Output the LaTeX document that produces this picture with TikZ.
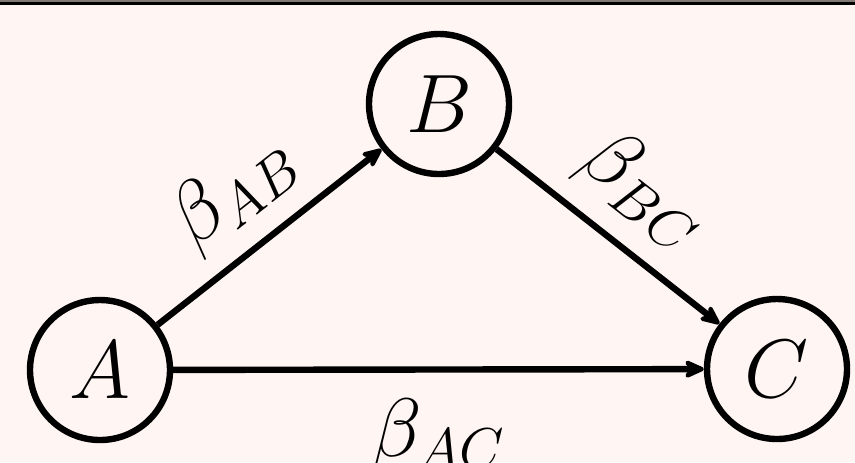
\documentclass[tikz,border=0pt]{standalone}
\usetikzlibrary{arrows.meta}
\definecolor{bgpink}{RGB}{255,245,243}
\definecolor{framegray}{RGB}{130,120,118}
\begin{document}
\begin{tikzpicture}[x=0.25pt,y=-0.25pt,
  statenode/.style={circle,draw=black,line width=1.6pt,minimum size=35pt,inner sep=0pt,
    font=\huge},
  edgeline/.style={line width=1.6pt,-{Stealth[round,length=6.5pt,width=5.8pt,inset=2.2pt]}},
  edgelabel/.style={inner sep=0pt,font=\huge}]
  \useasboundingbox (0,0) rectangle (855,462);
  \clip (0,0) rectangle (855,462);
  \fill[bgpink] (0,0) rectangle (855,462);
  \fill[framegray] (0,0) rectangle (855,2);
  \fill[black] (0,2) rectangle (855,4.7);
  \node[statenode] (A) at (100,370) {$A$};
  \node[statenode] (B) at (439,104) {$B$};
  \node[statenode] (C) at (777,369) {$C$};
  \draw[edgeline] (A) -- node[edgelabel,midway,sloped,above=4.5pt] (lab) {$\beta_{AB}$} (B);
  \draw[edgeline] (B) -- node[edgelabel,midway,sloped,above=4.5pt] (lbc) {$\beta_{BC}$} (C);
  \draw[edgeline] (A) -- node[edgelabel,midway,below=6.5pt] (lac) {$\beta_{AC}$} (C);
\end{tikzpicture}
\end{document}
